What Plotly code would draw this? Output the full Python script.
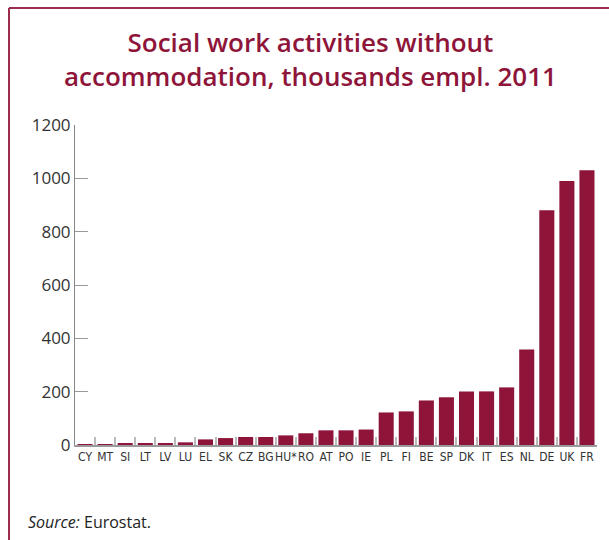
import plotly.graph_objects as go

countries = ["CY", "MT", "SI", "LT", "LV", "LU", "EL", "SK", "CZ", "BG", "HU*", "RO", "AT",
             "PO", "IE", "PL", "FI", "BE", "SP", "DK", "IT", "ES", "NL", "DE", "UK", "FR"]
employment = [2, 2, 4, 6, 6, 10, 21, 26, 30, 30, 36, 44, 55,
              55, 58, 122, 126, 167, 179, 201, 201, 216, 358, 880, 990, 1030]
y_ticks = [0, 200, 400, 600, 800, 1000, 1200]

MAROON = "#8e1539"

W, H = 609, 540
L, R, T, B = 75, 12, 125, 95
pw, ph = W - L - R, H - T - B


def px_x(x):
    return (x - L) / pw


def px_y(y):
    return (H - B - y) / ph


fig = go.Figure()
fig.add_trace(go.Bar(
    x=countries,
    y=employment,
    marker=dict(color=MAROON, line=dict(width=0)),
    showlegend=False,
))

fig.update_layout(
    width=W,
    height=H,
    margin=dict(l=L, r=R, t=T, b=B, autoexpand=False),
    paper_bgcolor="white",
    plot_bgcolor="white",
    bargap=0.25,
    font=dict(family="Open Sans", color="#222"),
    xaxis=dict(
        type="category",
        automargin=False,
        tickangle=0,
        showgrid=False,
        showline=True,
        linecolor="#999",
        linewidth=2,
        ticks="inside",
        tickson="boundaries",
        ticklen=8,
        tickcolor="#bbb",
        tickwidth=2,
        tickfont=dict(family="DejaVu Sans Condensed, Liberation Sans Narrow", size=12, color="#333"),
    ),
    yaxis=dict(
        range=[0, 1200],
        tickvals=y_ticks,
        automargin=False,
        showgrid=False,
        zeroline=False,
        showline=True,
        linecolor="#888",
        linewidth=1,
        ticks="inside",
        ticklen=13,
        tickcolor="#999",
        tickfont=dict(family="Open Sans", size=17, color="#333"),
    ),
)

# title
fig.add_annotation(
    text="Social work activities without<br>accommodation, thousands empl. 2011",
    xref="paper", yref="paper", x=px_x(310), y=px_y(59),
    xanchor="center", yanchor="middle", showarrow=False,
    font=dict(family="Open Sans", size=26, weight=600, color=MAROON),
)

# source
fig.add_annotation(
    text="<i>Source:</i> Eurostat.",
    xref="paper", yref="paper", x=px_x(26), y=px_y(522),
    xanchor="left", yanchor="middle", showarrow=False,
    font=dict(family="Open Sans", size=16, color="#222"),
)

# frame lines (top and left)
fig.add_shape(type="line", xref="paper", yref="paper",
              x0=px_x(9), x1=px_x(609), y0=px_y(8), y1=px_y(8),
              line=dict(color="#9b2c4c", width=2))
fig.add_shape(type="line", xref="paper", yref="paper",
              x0=px_x(9), x1=px_x(9), y0=px_y(8), y1=px_y(540),
              line=dict(color="#9b2c4c", width=2))

fig.write_html("out.html", config={"displayModeBar": False},
               post_script="document.body.style.margin='0';")
